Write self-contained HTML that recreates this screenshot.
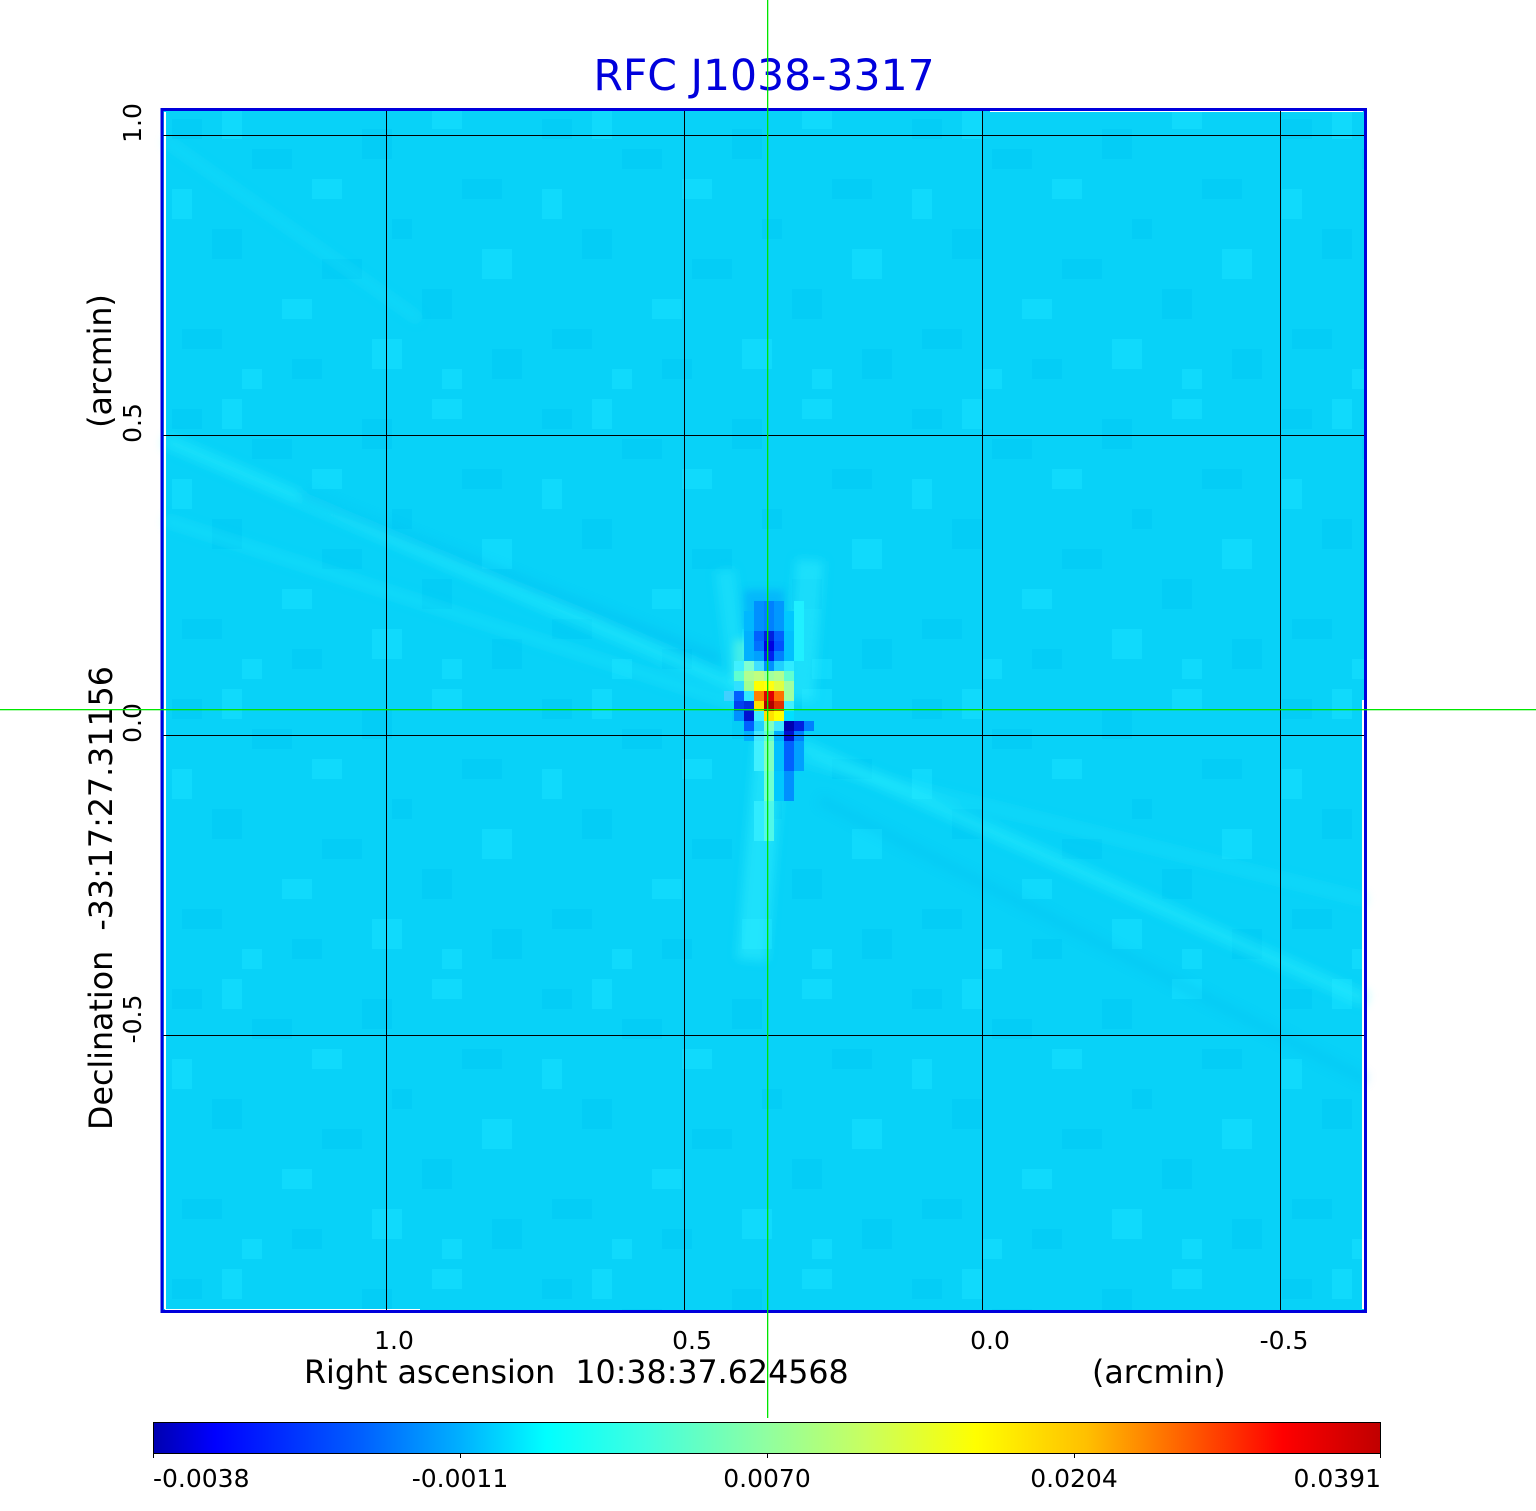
<!DOCTYPE html>
<html><head><meta charset="utf-8"><style>
html,body{margin:0;padding:0;background:#fff;}
svg{display:block;}
text{font-family:"DejaVu Sans","Liberation Sans",sans-serif;}
</style></head><body>
<svg width="1536" height="1511" viewBox="0 0 1536 1511" xmlns="http://www.w3.org/2000/svg">
<defs>
<linearGradient id="jet" x1="0" y1="0" x2="1" y2="0">
<stop offset="0" stop-color="#0000b0"/>
<stop offset="0.05" stop-color="#0000ff"/>
<stop offset="0.17" stop-color="#0060ff"/>
<stop offset="0.25" stop-color="#00b0ff"/>
<stop offset="0.32" stop-color="#00ffff"/>
<stop offset="0.40" stop-color="#40ffe0"/>
<stop offset="0.50" stop-color="#90ffa0"/>
<stop offset="0.58" stop-color="#c8ff60"/>
<stop offset="0.67" stop-color="#ffff00"/>
<stop offset="0.76" stop-color="#ffc000"/>
<stop offset="0.84" stop-color="#ff6000"/>
<stop offset="0.92" stop-color="#ff0000"/>
<stop offset="1" stop-color="#c00000"/>
</linearGradient>
<pattern id="tex" x="162" y="109" width="370" height="290" patternUnits="userSpaceOnUse">
<rect x="0" y="0" width="370" height="290" fill="#08d2f8"/>
<g fill="#00c8f4" opacity="0.5">
<rect x="10" y="10" width="30" height="20"/>
<rect x="90" y="40" width="40" height="20"/>
<rect x="200" y="20" width="30" height="30"/>
<rect x="300" y="70" width="40" height="20"/>
<rect x="50" y="120" width="30" height="30"/>
<rect x="160" y="150" width="40" height="20"/>
<rect x="260" y="180" width="30" height="30"/>
<rect x="20" y="220" width="40" height="20"/>
<rect x="130" y="250" width="30" height="20"/>
<rect x="330" y="240" width="30" height="30"/>
<rect x="230" y="110" width="20" height="20"/>
</g>
<g fill="#18e2ff" opacity="0.5">
<rect x="60" y="0" width="20" height="30"/>
<rect x="150" y="70" width="30" height="20"/>
<rect x="270" y="0" width="30" height="20"/>
<rect x="10" y="80" width="20" height="30"/>
<rect x="120" y="190" width="30" height="20"/>
<rect x="210" y="230" width="30" height="30"/>
<rect x="320" y="140" width="30" height="30"/>
<rect x="80" y="260" width="20" height="20"/>
<rect x="280" y="260" width="20" height="20"/>
</g>
</pattern>
<filter id="blur" x="-10%" y="-10%" width="120%" height="120%">
<feGaussianBlur stdDeviation="5"/>
</filter>
<filter id="blur2" x="-20%" y="-20%" width="140%" height="140%">
<feGaussianBlur stdDeviation="4"/>
</filter>
</defs>

<!-- image -->
<rect x="162" y="109" width="1204" height="1203" fill="url(#tex)"/>

<!-- streaks -->
<g stroke-linecap="butt" fill="none" filter="url(#blur)">
<line x1="165" y1="440" x2="745" y2="690" stroke="#30f4ff" stroke-width="14" opacity="0.4"/>
<line x1="165" y1="520" x2="740" y2="705" stroke="#30f0ff" stroke-width="10" opacity="0.3"/>
<line x1="300" y1="495" x2="720" y2="660" stroke="#00b8f0" stroke-width="12" opacity="0.35"/>
<line x1="165" y1="140" x2="420" y2="320" stroke="#30f0ff" stroke-width="10" opacity="0.2"/>
<line x1="800" y1="745" x2="1366" y2="1000" stroke="#30f4ff" stroke-width="14" opacity="0.4"/>
<line x1="800" y1="760" x2="1366" y2="900" stroke="#30f0ff" stroke-width="10" opacity="0.25"/>
<line x1="820" y1="800" x2="1366" y2="1080" stroke="#00b8f0" stroke-width="10" opacity="0.25"/>
<line x1="770" y1="740" x2="752" y2="960" stroke="#40f8ff" stroke-width="30" opacity="0.4"/>
<line x1="810" y1="560" x2="800" y2="700" stroke="#30f0ff" stroke-width="28" opacity="0.45"/>
<line x1="725" y1="570" x2="740" y2="690" stroke="#30f0ff" stroke-width="20" opacity="0.35"/>
</g>
<!-- soft halo around source -->
<g filter="url(#blur2)">
<rect x="734" y="640" width="20" height="40" fill="#70ffd8" opacity="0.5"/>
<rect x="744" y="590" width="40" height="40" fill="#0090ff" opacity="0.4"/>
</g>

<!-- central source cells -->
<g shape-rendering="crispEdges">
<rect x="754" y="601" width="10" height="30" fill="#0090ff"/>
<rect x="764" y="601" width="10" height="30" fill="#0080ff"/>
<rect x="774" y="601" width="10" height="30" fill="#0098ff"/>
<rect x="744" y="611" width="10" height="20" fill="#00b8ff"/>
<rect x="784" y="611" width="10" height="20" fill="#00c8ff"/>
<rect x="794" y="601" width="10" height="60" fill="#20f0ff"/>
<rect x="744" y="631" width="10" height="30" fill="#00b0ff"/>
<rect x="754" y="631" width="10" height="10" fill="#0060ff"/>
<rect x="764" y="631" width="10" height="10" fill="#0020e0"/>
<rect x="774" y="631" width="10" height="10" fill="#0060ff"/>
<rect x="784" y="631" width="10" height="30" fill="#00c0ff"/>
<rect x="754" y="641" width="10" height="10" fill="#0070ff"/>
<rect x="764" y="641" width="10" height="10" fill="#0000e0"/>
<rect x="774" y="641" width="10" height="10" fill="#0050ff"/>
<rect x="754" y="651" width="10" height="10" fill="#00a0ff"/>
<rect x="764" y="651" width="10" height="10" fill="#0020f0"/>
<rect x="774" y="651" width="10" height="10" fill="#0080ff"/>
<rect x="734" y="661" width="10" height="10" fill="#40f0ff"/>
<rect x="744" y="661" width="10" height="10" fill="#80ffd0"/>
<rect x="754" y="661" width="10" height="10" fill="#40e0ff"/>
<rect x="764" y="661" width="10" height="10" fill="#0090ff"/>
<rect x="774" y="661" width="10" height="10" fill="#20d0ff"/>
<rect x="784" y="661" width="10" height="10" fill="#30ecff"/>
<rect x="734" y="671" width="10" height="10" fill="#60ffd0"/>
<rect x="744" y="671" width="10" height="10" fill="#b0ff90"/>
<rect x="754" y="671" width="10" height="10" fill="#c0ff80"/>
<rect x="764" y="671" width="10" height="10" fill="#a0ffa0"/>
<rect x="774" y="671" width="10" height="10" fill="#b0ff90"/>
<rect x="784" y="671" width="10" height="10" fill="#60ffd0"/>
<rect x="734" y="681" width="10" height="10" fill="#30e0ff"/>
<rect x="744" y="681" width="10" height="10" fill="#a0ff90"/>
<rect x="754" y="681" width="10" height="10" fill="#ffff00"/>
<rect x="764" y="681" width="10" height="10" fill="#ffff10"/>
<rect x="774" y="681" width="10" height="10" fill="#e0ff40"/>
<rect x="784" y="681" width="10" height="10" fill="#a0ffa0"/>
<rect x="724" y="691" width="10" height="10" fill="#40d0ff"/>
<rect x="734" y="691" width="10" height="10" fill="#0060ff"/>
<rect x="744" y="691" width="10" height="10" fill="#30e8ff"/>
<rect x="754" y="691" width="10" height="10" fill="#ff8000"/>
<rect x="764" y="691" width="10" height="10" fill="#e00000"/>
<rect x="774" y="691" width="10" height="10" fill="#ff7000"/>
<rect x="784" y="691" width="10" height="10" fill="#a0ffa0"/>
<rect x="734" y="701" width="10" height="10" fill="#0040f0"/>
<rect x="744" y="701" width="10" height="10" fill="#0030e0"/>
<rect x="754" y="701" width="10" height="10" fill="#ffe000"/>
<rect x="764" y="701" width="10" height="10" fill="#b00000"/>
<rect x="774" y="701" width="10" height="10" fill="#e03000"/>
<rect x="784" y="701" width="10" height="10" fill="#40f0ff"/>
<rect x="734" y="711" width="10" height="10" fill="#0090ff"/>
<rect x="744" y="711" width="10" height="10" fill="#0010d0"/>
<rect x="754" y="711" width="10" height="10" fill="#40f0ff"/>
<rect x="764" y="711" width="10" height="10" fill="#ffe000"/>
<rect x="774" y="711" width="10" height="10" fill="#ffff00"/>
<rect x="784" y="711" width="10" height="10" fill="#00e0ff"/>
<rect x="744" y="721" width="10" height="10" fill="#0060ff"/>
<rect x="754" y="721" width="10" height="10" fill="#20d0ff"/>
<rect x="764" y="721" width="10" height="10" fill="#80ffc0"/>
<rect x="774" y="721" width="10" height="10" fill="#40e8ff"/>
<rect x="784" y="721" width="10" height="10" fill="#0000b0"/>
<rect x="794" y="721" width="10" height="10" fill="#0020e0"/>
<rect x="804" y="721" width="10" height="10" fill="#0080ff"/>
<rect x="744" y="731" width="10" height="10" fill="#00b0ff"/>
<rect x="754" y="731" width="10" height="10" fill="#40e8ff"/>
<rect x="764" y="731" width="10" height="10" fill="#60ffd0"/>
<rect x="774" y="731" width="10" height="10" fill="#00b0ff"/>
<rect x="784" y="731" width="10" height="10" fill="#0010d0"/>
<rect x="794" y="731" width="10" height="10" fill="#0080ff"/>
<rect x="754" y="741" width="10" height="30" fill="#40f0ff"/>
<rect x="764" y="741" width="10" height="30" fill="#80ffc0"/>
<rect x="774" y="741" width="10" height="30" fill="#00c0ff"/>
<rect x="784" y="741" width="10" height="30" fill="#0060ff"/>
<rect x="794" y="741" width="10" height="30" fill="#00a0ff"/>
<rect x="764" y="771" width="10" height="30" fill="#70ffd0"/>
<rect x="774" y="771" width="10" height="30" fill="#00c8ff"/>
<rect x="784" y="771" width="10" height="30" fill="#0090ff"/>
<rect x="764" y="801" width="10" height="40" fill="#50f8e8"/>
<rect x="754" y="801" width="10" height="40" fill="#30ecff"/>
</g>

<!-- white slivers -->
<g stroke="#ffffff" stroke-width="2">
<line x1="165" y1="112" x2="165" y2="1309"/>
<line x1="165" y1="1310" x2="420" y2="1310"/>
<line x1="1363" y1="700" x2="1363" y2="1309"/>
<line x1="990" y1="111" x2="1363" y2="111"/>
</g>

<!-- grid -->
<g fill="#000">
<rect x="386" y="109" width="1" height="1203"/>
<rect x="684" y="109" width="1" height="1203"/>
<rect x="982" y="109" width="1" height="1203"/>
<rect x="1280" y="109" width="1" height="1203"/>
<rect x="162" y="135" width="1204" height="1"/>
<rect x="162" y="435" width="1204" height="1"/>
<rect x="162" y="735" width="1204" height="1"/>
<rect x="162" y="1035" width="1204" height="1"/>
</g>

<!-- frame -->
<rect x="162" y="109.5" width="1203.5" height="1202" fill="none" stroke="#0000dc" stroke-width="3"/>

<!-- title -->
<text x="764" y="90" font-size="42.5" fill="#0000dc" text-anchor="middle">RFC J1038-3317</text>

<!-- x tick labels -->
<g font-size="25" fill="#000" text-anchor="middle">
<text x="394" y="1349">1.0</text>
<text x="692" y="1349">0.5</text>
<text x="990" y="1349">0.0</text>
<text x="1284" y="1349">-0.5</text>
</g>
<text x="304" y="1383" font-size="31.7" fill="#000" style="white-space:pre">Right ascension  10:38:37.624568</text>
<text x="1092" y="1383" font-size="31.7" fill="#000">(arcmin)</text>

<!-- y tick labels -->
<g font-size="25" fill="#000" text-anchor="middle">
<text transform="translate(141,123) rotate(-90)">1.0</text>
<text transform="translate(141,423) rotate(-90)">0.5</text>
<text transform="translate(141,723) rotate(-90)">0.0</text>
<text transform="translate(141,1019) rotate(-90)">-0.5</text>
</g>
<text transform="translate(112,898) rotate(-90)" font-size="31.7" fill="#000" text-anchor="middle" style="white-space:pre">Declination  -33:17:27.31156</text>
<text transform="translate(111,361) rotate(-90)" font-size="31.7" fill="#000" text-anchor="middle">(arcmin)</text>

<!-- green crosshair -->
<g fill="#00e600">
<rect x="767" y="0" width="1.3" height="1418"/>
<rect x="0" y="709" width="1536" height="1.3"/>
</g>

<!-- colorbar -->
<rect x="153.5" y="1422.5" width="1227" height="31" fill="url(#jet)" stroke="#000" stroke-width="1"/>
<g fill="#000">
<rect x="153" y="1453" width="1" height="5"/>
<rect x="460" y="1453" width="1" height="5"/>
<rect x="767" y="1453" width="1" height="5"/>
<rect x="1074" y="1453" width="1" height="5"/>
<rect x="1380" y="1453" width="1" height="5"/>
</g>
<g font-size="25" fill="#000">
<text x="153" y="1487">-0.0038</text>
<text x="460" y="1487" text-anchor="middle">-0.0011</text>
<text x="767" y="1487" text-anchor="middle">0.0070</text>
<text x="1074" y="1487" text-anchor="middle">0.0204</text>
<text x="1381" y="1487" text-anchor="end">0.0391</text>
</g>
</svg>
</body></html>
